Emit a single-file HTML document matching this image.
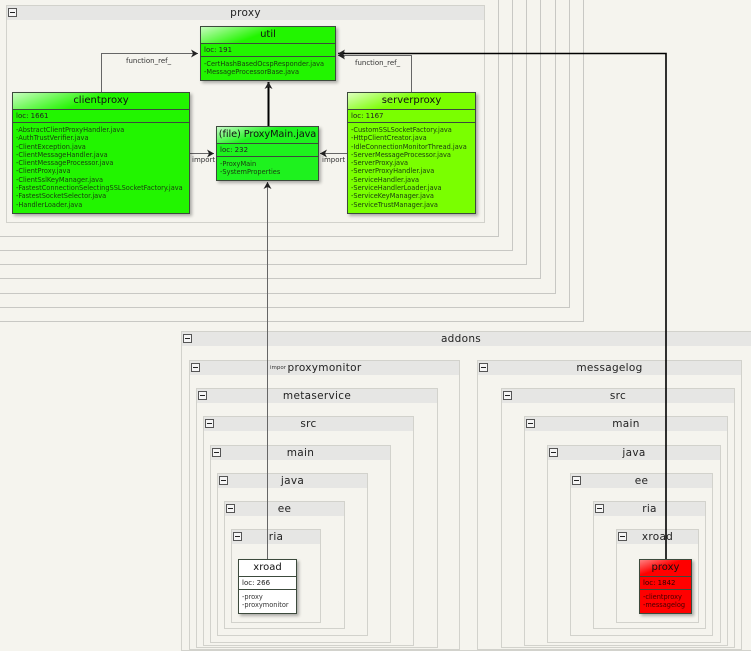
<!DOCTYPE html>
<html><head><meta charset="utf-8"><style>
*{box-sizing:border-box;margin:0;padding:0}
body{width:751px;height:636px;background:#f5f4ee;position:relative;overflow:hidden;font-family:"DejaVu Sans","Liberation Sans",sans-serif;}
.f{position:absolute;border:1px solid #d2d2cc;}
.h{position:absolute;left:0;right:0;top:0;height:14px;background:#e6e6e4;font-size:10.5px;line-height:14px;text-align:center;color:#222;letter-spacing:0.3px}
.m{position:absolute;left:1px;top:2px;width:9px;height:9px;border:1px solid #555;background:#f5f5f5}
.m:after{content:"";position:absolute;left:1px;top:3px;width:5px;height:1px;background:#222}
.o{position:absolute;border-right:1px solid #c8c8c4;border-bottom:1px solid #c8c8c4}
.b{position:absolute;border:1px solid #3c4a3c;box-shadow:2px 2px 3px rgba(0,0,0,0.3);color:#123}
.t{height:17px;border-bottom:1px solid #3c4a3c;font-size:10px;line-height:16px;text-align:center;color:#111;white-space:nowrap;background:linear-gradient(160deg,rgba(255,255,255,0.75) 0%,rgba(255,255,255,0) 45%)}
.l{height:13px;border-bottom:1px solid #3c4a3c;font-size:7px;line-height:12px;padding-left:3px;color:#222}
.c{font-size:6.6px;line-height:8.3px;padding:3px 0 0 3px;color:#1a3a10;white-space:nowrap}
.lab{position:absolute;font-size:7px;color:#333;white-space:nowrap}
</style></head><body>

<div class="o" style="left:-20px;top:-20px;width:604px;height:342px"></div>
<div class="o" style="left:-20px;top:-20px;width:590px;height:328px"></div>
<div class="o" style="left:-20px;top:-20px;width:576px;height:314px"></div>
<div class="o" style="left:-20px;top:-20px;width:561px;height:299px"></div>
<div class="o" style="left:-20px;top:-20px;width:547px;height:285px"></div>
<div class="o" style="left:-20px;top:-20px;width:533px;height:271px"></div>
<div class="o" style="left:-20px;top:-20px;width:519px;height:257px"></div>

<div class="f" style="left:6px;top:5px;width:479px;height:218px"><div class="h">proxy<div class="m"></div></div></div>

<div class="f" style="left:181px;top:331px;width:580px;height:320px"><div class="h" style="padding-right:20px">addons<div class="m"></div></div></div>
<div class="f" style="left:189px;top:360px;width:271px;height:290px"><div class="h">proxymonitor<div class="m"></div></div></div>
<div class="f" style="left:196px;top:388px;width:242px;height:260px"><div class="h">metaservice<div class="m"></div></div></div>
<div class="f" style="left:203px;top:416px;width:211px;height:230px"><div class="h">src<div class="m"></div></div></div>
<div class="f" style="left:210px;top:445px;width:181px;height:198px"><div class="h">main<div class="m"></div></div></div>
<div class="f" style="left:217px;top:473px;width:151px;height:163px"><div class="h">java<div class="m"></div></div></div>
<div class="f" style="left:224px;top:501px;width:121px;height:128px"><div class="h">ee<div class="m"></div></div></div>
<div class="f" style="left:231px;top:529px;width:90px;height:94px"><div class="h">ria<div class="m"></div></div></div>

<div class="f" style="left:477px;top:360px;width:265px;height:290px"><div class="h">messagelog<div class="m"></div></div></div>
<div class="f" style="left:501px;top:388px;width:234px;height:260px"><div class="h">src<div class="m"></div></div></div>
<div class="f" style="left:524px;top:416px;width:204px;height:230px"><div class="h">main<div class="m"></div></div></div>
<div class="f" style="left:547px;top:445px;width:174px;height:198px"><div class="h">java<div class="m"></div></div></div>
<div class="f" style="left:570px;top:473px;width:143px;height:163px"><div class="h">ee<div class="m"></div></div></div>
<div class="f" style="left:593px;top:501px;width:113px;height:128px"><div class="h">ria<div class="m"></div></div></div>
<div class="f" style="left:616px;top:529px;width:83px;height:94px"><div class="h">xroad<div class="m"></div></div></div>

<svg style="position:absolute;left:0;top:0" width="751" height="636">
<defs>
<marker id="a" markerWidth="8" markerHeight="8" refX="7" refY="4" orient="auto" markerUnits="userSpaceOnUse"><path d="M0,0 L7,4 L0,8 L2,4 z" fill="#222"/></marker>
</defs>
<g fill="none" stroke="#666" stroke-width="1">
<path d="M101.5,92 V53.5 H198" marker-end="url(#a)"/>
<path d="M411.5,92 V55.5 H338" marker-end="url(#a)"/>
<path d="M189,153.5 H214" marker-end="url(#a)"/>
<path d="M347,153.5 H320" marker-end="url(#a)"/>
<path d="M267.5,559 V182" marker-end="url(#a)"/>
</g>
<path d="M268.5,126 V82" stroke="#000" stroke-width="2" fill="none" marker-end="url(#a)"/>
<path d="M666,559 V53.5 H338" stroke="#000" stroke-width="1.6" fill="none" marker-end="url(#a)"/>
</svg>

<div class="lab" style="left:126px;top:57px">function_ref_</div>
<div class="lab" style="left:355px;top:59px">function_ref_</div>
<div class="lab" style="left:192px;top:156px">import</div>
<div class="lab" style="left:322px;top:156px">import</div>
<div class="lab" style="left:270px;top:365px;font-size:5.5px">impor</div>

<div class="b" style="left:200px;top:26px;width:136px;height:55px;background:#22f500">
<div class="t">util</div><div class="l">loc: 191</div>
<div class="c">-CertHashBasedOcspResponder.java<br>-MessageProcessorBase.java</div></div>

<div class="b" style="left:12px;top:92px;width:178px;height:122px;background:#22f500">
<div class="t">clientproxy</div><div class="l">loc: 1661</div>
<div class="c">-AbstractClientProxyHandler.java<br>-AuthTrustVerifier.java<br>-ClientException.java<br>-ClientMessageHandler.java<br>-ClientMessageProcessor.java<br>-ClientProxy.java<br>-ClientSslKeyManager.java<br>-FastestConnectionSelectingSSLSocketFactory.java<br>-FastestSocketSelector.java<br>-HandlerLoader.java</div></div>

<div class="b" style="left:216px;top:126px;width:103px;height:55px;background:#1ef21e">
<div class="t" style="font-size:9.8px;letter-spacing:-0.1px">(file) ProxyMain.java</div><div class="l">loc: 232</div>
<div class="c">-ProxyMain<br>-SystemProperties</div></div>

<div class="b" style="left:347px;top:92px;width:129px;height:122px;background:#7aff00">
<div class="t">serverproxy</div><div class="l">loc: 1167</div>
<div class="c">-CustomSSLSocketFactory.java<br>-HttpClientCreator.java<br>-IdleConnectionMonitorThread.java<br>-ServerMessageProcessor.java<br>-ServerProxy.java<br>-ServerProxyHandler.java<br>-ServiceHandler.java<br>-ServiceHandlerLoader.java<br>-ServiceKeyManager.java<br>-ServiceTrustManager.java</div></div>

<div class="b" style="left:238px;top:559px;width:59px;height:55px;background:#fff">
<div class="t">xroad</div><div class="l">loc: 266</div>
<div class="c" style="color:#333">-proxy<br>-proxymonitor</div></div>

<div class="b" style="left:639px;top:559px;width:53px;height:55px;background:#ff0000">
<div class="t" style="background:linear-gradient(160deg,rgba(255,255,255,0.5) 0%,rgba(255,255,255,0) 45%)">proxy</div><div class="l" style="color:#300">loc: 1842</div>
<div class="c" style="color:#400">-clientproxy<br>-messagelog</div></div>

</body></html>
